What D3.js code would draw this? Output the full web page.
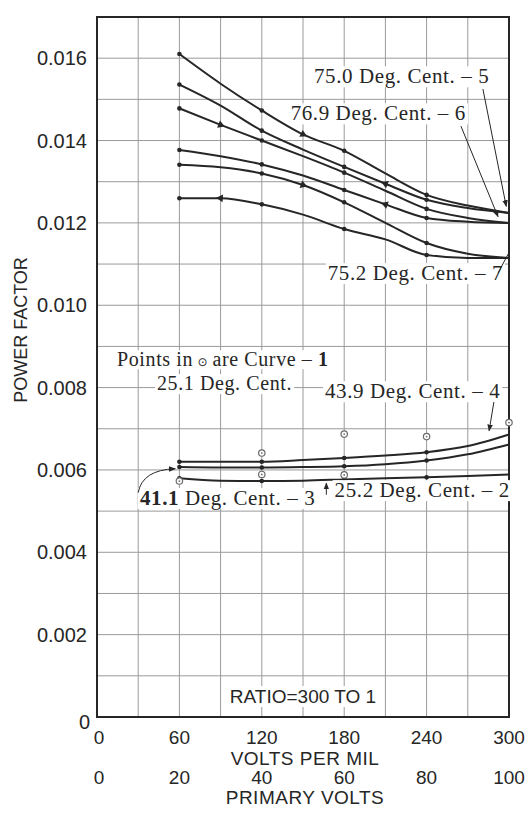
<!DOCTYPE html>
<html>
<head>
<meta charset="utf-8">
<script src="https://cdn.jsdelivr.net/npm/d3@7"></script>
<style>
  html, body { margin: 0; padding: 0; background: #ffffff; }
  svg { display: block; }
</style>
</head>
<body>
<svg id="chart" width="528" height="813"></svg>
<script>
// ---------------- DATA ----------------
const voltsPerMil = [60, 90, 120, 150, 180, 210, 240, 270, 300];

// Upper group (two branches per curve, meeting at 300 V/mil)
const curve5a = [0.01610, 0.01538, 0.01473, 0.01415, 0.01375, 0.01320, 0.01268, 0.01242, 0.01224];
const curve5b = [0.01536, 0.01485, 0.01424, 0.01378, 0.01336, 0.01295, 0.01256, 0.01236, 0.01224];
const curve6a = [0.01478, 0.01438, 0.01400, 0.01362, 0.01322, 0.01278, 0.01234, 0.01212, 0.01200];
const curve6b = [0.01377, 0.01362, 0.01342, 0.01315, 0.01280, 0.01245, 0.01212, 0.01203, 0.01200];
const curve7a = [0.01341, 0.01335, 0.01320, 0.01292, 0.01250, 0.01200, 0.01151, 0.01125, 0.01115];
const curve7b = [0.01260, 0.01260, 0.01245, 0.01220, 0.01185, 0.01160, 0.01122, 0.01115, 0.01115];

// Lower group
const curve4 = [0.00620, 0.00620, 0.00620, 0.00624, 0.00629, 0.00635, 0.00643, 0.00658, 0.00686];
const curve3 = [0.00607, 0.00606, 0.00606, 0.00607, 0.00609, 0.00614, 0.00623, 0.00638, 0.00662];
const curve2 = [0.00580, 0.00574, 0.00573, 0.00574, 0.00577, 0.00580, 0.00582, 0.00585, 0.00589];

// Curve 1 : open-circle points (25.1 Deg. Cent.)
const curve1X = [60, 120, 120, 180, 180, 240, 300];
const curve1Y = [0.00573, 0.00641, 0.00589, 0.00687, 0.00588, 0.00681, 0.00715];

// Measured-point markers along the curves
const pointX = [60, 120, 180, 240];

// Ticks
const yTickValues = [0, 0.002, 0.004, 0.006, 0.008, 0.010, 0.012, 0.014, 0.016];
const yTickLabels = ["0", "0.002", "0.004", "0.006", "0.008", "0.010", "0.012", "0.014", "0.016"];
const xTickValues = [0, 60, 120, 180, 240, 300];
const xTickLabels = ["0", "60", "120", "180", "240", "300"];
const primaryTickValues = [0, 20, 40, 60, 80, 100];
const primaryTickLabels = ["0", "20", "40", "60", "80", "100"];

// ---------------- DRAWING ----------------
const svg = d3.select("#chart");
const W = 528, H = 813;
svg.append("rect").attr("width", W).attr("height", H).attr("fill", "#ffffff");

const x = d3.scaleLinear().domain([0, 300]).range([97, 509]);
const xPrim = d3.scaleLinear().domain([0, 100]).range([97, 509]);
const y = d3.scaleLinear().domain([0, 0.017]).range([717, 17]);

const ink = "#262626";
const serif = "'Liberation Serif', 'Times New Roman', serif";
const sans = "'Liberation Sans', Arial, sans-serif";

// arrow marker
const defs = svg.append("defs");
defs.append("marker")
  .attr("id", "arr").attr("viewBox", "0 0 10 10")
  .attr("refX", 9).attr("refY", 5)
  .attr("markerWidth", 7).attr("markerHeight", 7)
  .attr("orient", "auto-start-reverse")
  .append("path").attr("d", "M0,1 L10,5 L0,9 Z").attr("fill", ink);

// grid
const grid = svg.append("g").attr("stroke", "#9a9a9a").attr("stroke-width", 1);
grid.selectAll("line.v").data(d3.range(0, 301, 30)).join("line")
  .attr("x1", d => x(d)).attr("x2", d => x(d))
  .attr("y1", y(0)).attr("y2", y(0.017));
grid.selectAll("line.h").data(d3.range(0, 18).map(i => i * 0.001)).join("line")
  .attr("x1", x(0)).attr("x2", x(300))
  .attr("y1", d => y(d)).attr("y2", d => y(d));

// frame
svg.append("rect")
  .attr("x", x(0)).attr("y", y(0.017))
  .attr("width", x(300) - x(0)).attr("height", y(0) - y(0.017))
  .attr("fill", "none").attr("stroke", ink).attr("stroke-width", 2);

// curves
const line = d3.line()
  .x((d, i) => x(voltsPerMil[i]))
  .y(d => y(d))
  .curve(d3.curveMonotoneX);

const upper = [curve5a, curve5b, curve6a, curve6b, curve7a, curve7b];
const lower = [curve4, curve3, curve2];
const curvesG = svg.append("g");
curvesG.selectAll("path.c").data(upper.concat(lower)).join("path")
  .attr("d", line)
  .attr("fill", "none").attr("stroke", ink).attr("stroke-width", 2);

// point dots
const allCurves = upper.concat(lower);
allCurves.forEach(c => {
  curvesG.selectAll(null).data(pointX).join("circle")
    .attr("cx", d => x(d))
    .attr("cy", d => y(c[voltsPerMil.indexOf(d)]))
    .attr("r", 2.3).attr("fill", ink);
});

// direction triangles on upper curves
const triX = [150, 210, 90, 210, 150, 90];
upper.forEach((c, k) => {
  const xv = triX[k];
  const i = voltsPerMil.indexOf(xv);
  const px = x(xv), py = y(c[i]);
  const dx = x(voltsPerMil[i + 1]) - x(voltsPerMil[i - 1]);
  const dy = y(c[i + 1]) - y(c[i - 1]);
  const ang = Math.atan2(dy, dx) * 180 / Math.PI + (k % 2 === 0 ? 90 : -90);
  curvesG.append("path")
    .attr("d", d3.symbol().type(d3.symbolTriangle).size(26)())
    .attr("transform", `translate(${px},${py}) rotate(${ang})`)
    .attr("fill", ink);
});

// curve 1 open circles
const c1 = svg.append("g");
c1.selectAll("circle.o").data(curve1X).join("circle")
  .attr("cx", d => x(d)).attr("cy", (d, i) => y(curve1Y[i]))
  .attr("r", 3.2).attr("fill", "#fff").attr("stroke", "#6a6a6a").attr("stroke-width", 1.2);
c1.selectAll("circle.i").data(curve1X).join("circle")
  .attr("cx", d => x(d)).attr("cy", (d, i) => y(curve1Y[i]))
  .attr("r", 0.9).attr("fill", "#6a6a6a");

// ---------------- labels ----------------
function label(parts, xv, yv, size, anchor) {
  const g = svg.append("g");
  const r = g.append("rect").attr("fill", "#ffffff");
  const t = g.append("text")
    .attr("x", x(xv)).attr("y", y(yv))
    .attr("font-family", serif).attr("font-size", size)
    .attr("letter-spacing", 0.6)
    .attr("fill", ink).attr("text-anchor", anchor || "start");
  parts.forEach(p => {
    const ts = t.append("tspan").text(p.t);
    if (p.w) ts.attr("font-weight", p.w);
    if (p.s) ts.attr("font-size", p.s);
    if (p.f) ts.attr("font-family", p.f);
  });
  const b = t.node().getBBox();
  r.attr("x", b.x - 2).attr("y", b.y + 2).attr("width", b.width + 4).attr("height", b.height - 3);
  return g;
}
function arrow(x1, y1, x2, y2) {
  svg.append("line")
    .attr("x1", x(x1)).attr("y1", y(y1)).attr("x2", x(x2)).attr("y2", y(y2))
    .attr("stroke", ink).attr("stroke-width", 1).attr("marker-end", "url(#arr)");
}

label([{t: "75.0 Deg. Cent. \u2013 5"}], 158, 0.01539, 21);
label([{t: "76.9 Deg. Cent. \u2013 6"}], 141, 0.01449, 21);
label([{t: "75.2 Deg. Cent. \u2013 7"}], 168, 0.01061, 21);
arrow(281, 0.01525, 298, 0.01240);
arrow(265, 0.01435, 292, 0.01215);
svg.append("line")
  .attr("x1", x(292)).attr("y1", y(0.01078)).attr("x2", x(299.5)).attr("y2", y(0.01125))
  .attr("stroke", ink).attr("stroke-width", 1);

label([{t: "Points in"}, {t: " \u2299 ", s: 12, f: "'DejaVu Sans', sans-serif"}, {t: "are Curve \u2013 "}, {t: "1", w: "bold"}], 14.6, 0.00852, 20);
label([{t: "25.1 Deg. Cent."}], 43.7, 0.00794, 20);
label([{t: "43.9 Deg. Cent. \u2013 4"}], 166, 0.00774, 21);
arrow(289, 0.00765, 285.5, 0.00695);

label([{t: "41.1", w: "bold"}, {t: " Deg. Cent. \u2013 3"}], 31.3, 0.00515, 21);
label([{t: "25.2 Deg. Cent. \u2013 2"}], 173, 0.00534, 21);
arrow(167, 0.00540, 167, 0.00568);
// curved arrow for curve 3
svg.append("path")
  .attr("d", `M${x(30)},${y(0.00545)} Q${x(33)},${y(0.00600)} ${x(57)},${y(0.00603)}`)
  .attr("fill", "none").attr("stroke", ink).attr("stroke-width", 1)
  .attr("marker-end", "url(#arr)");

// ratio note
(function () {
  const g = svg.append("g");
  const r = g.append("rect").attr("fill", "#fff");
  const t = g.append("text").attr("x", x(150)).attr("y", y(0.00034))
    .attr("text-anchor", "middle").attr("font-family", sans).attr("font-size", 19)
    .attr("fill", ink).text("RATIO=300 TO 1");
  const b = t.node().getBBox();
  r.attr("x", b.x - 3).attr("y", b.y).attr("width", b.width + 6).attr("height", b.height);
})();

// ---------------- axes text ----------------
const ax = svg.append("g").attr("font-family", sans).attr("fill", ink);
ax.selectAll("text.yt").data(yTickValues).join("text")
  .attr("x", d => d === 0 ? 90 : 87)
  .attr("y", d => y(d) + (d === 0 ? 12 : 7))
  .attr("text-anchor", "end").attr("font-size", 20)
  .text((d, i) => yTickLabels[i]);

ax.selectAll("text.xt").data(xTickValues).join("text")
  .attr("x", d => x(d) + (d === 0 ? 2 : 0)).attr("y", 744)
  .attr("text-anchor", "middle").attr("font-size", 19)
  .text((d, i) => xTickLabels[i]);

ax.selectAll("text.pt").data(primaryTickValues).join("text")
  .attr("x", d => xPrim(d) + (d === 0 ? 2 : 0)).attr("y", 784)
  .attr("text-anchor", "middle").attr("font-size", 19)
  .text((d, i) => primaryTickLabels[i]);

ax.append("text").attr("x", 305).attr("y", 765).attr("text-anchor", "middle")
  .attr("font-size", 19).attr("letter-spacing", 0.5).text("VOLTS PER MIL");
ax.append("text").attr("x", 305).attr("y", 804).attr("text-anchor", "middle")
  .attr("font-size", 19).attr("letter-spacing", 0.5).text("PRIMARY VOLTS");
ax.append("text")
  .attr("transform", "translate(27,330) rotate(-90)")
  .attr("text-anchor", "middle").attr("font-size", 18).text("POWER FACTOR");
</script>
</body>
</html>
